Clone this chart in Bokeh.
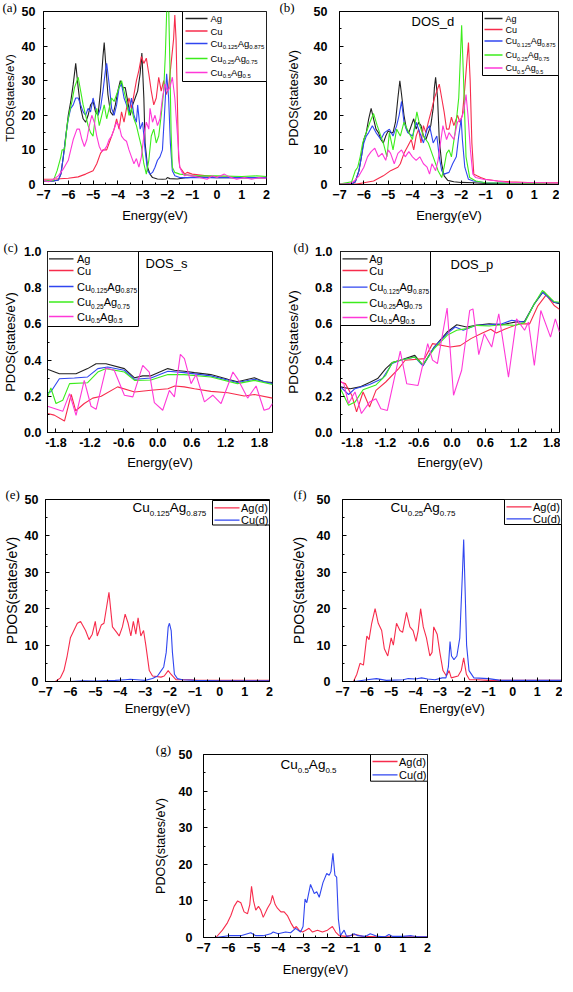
from bokeh.plotting import figure
from bokeh.models import Label, BoxAnnotation, Arrow, FixedTicker, NumeralTickFormatter, Range1d, Title
from bokeh.layouts import column, row
from bokeh.embed import file_html
from bokeh.resources import INLINE

# ---------------- data (energy in eV, DOS in states/eV) ----------------
# (a) total DOS
A_AG = [(-7.0,1.0),(-6.6,1.0),(-6.4,1.3),(-6.3,3),(-6.2,8),(-6.1,14),(-6.0,20),(-5.9,24),(-5.8,29),(-5.7,35),(-5.6,28),(-5.5,22),(-5.4,19),(-5.3,18),(-5.2,20),(-5.1,23),(-5.0,24),(-4.9,21),(-4.8,20),(-4.7,27),(-4.6,37),(-4.55,41),(-4.5,36),(-4.4,26),(-4.3,21),(-4.2,20),(-4.1,23),(-4.0,27),(-3.9,30),(-3.8,28),(-3.7,28),(-3.6,24),(-3.5,20),(-3.4,23),(-3.3,25),(-3.2,27),(-3.1,32),(-3.03,38),(-2.95,25),(-2.9,12),(-2.8,5),(-2.7,3),(-2.6,2),(-2.4,1.6),(-2.2,1.5),(-2.05,1.6),(-2.0,2.0),(-1.9,1.7),(-1.6,1.6),(-1.2,2.0),(-0.8,2.2),(0.0,2.0),(1.0,2.0),(2.0,2.0)]
A_CU = [(-7.0,1.5),(-6.5,1.6),(-6.0,1.8),(-5.6,2.2),(-5.3,3.0),(-5.0,4.0),(-4.85,6),(-4.7,9),(-4.6,10),(-4.45,10),(-4.3,13),(-4.15,16),(-4.05,19),(-3.95,16),(-3.85,21),(-3.75,18),(-3.65,22),(-3.55,25),(-3.45,22),(-3.35,26),(-3.25,30),(-3.15,33),(-3.05,37),(-2.95,35),(-2.85,36.5),(-2.75,32),(-2.65,27),(-2.55,23),(-2.45,25),(-2.35,31),(-2.25,27),(-2.15,30),(-2.05,26),(-1.95,28),(-1.85,35),(-1.75,42),(-1.7,49),(-1.65,42),(-1.6,25),(-1.55,8),(-1.5,5),(-1.4,4),(-1.3,3),(-1.2,3.5),(-1.0,3.0),(-0.5,2.6),(0.0,2.2),(1.0,2.0),(2.0,2.0)]
A_C125 = [(-7.0,1.0),(-6.6,1.0),(-6.4,1.3),(-6.3,3),(-6.2,8),(-6.1,14),(-6.0,19),(-5.9,22),(-5.8,23),(-5.7,25),(-5.6,25),(-5.5,23),(-5.4,21),(-5.3,20),(-5.2,22),(-5.1,21),(-5.0,25),(-4.9,22),(-4.8,20),(-4.7,22),(-4.6,27),(-4.5,33),(-4.45,35),(-4.35,29),(-4.25,22),(-4.15,20),(-4.05,23),(-3.95,28),(-3.85,29),(-3.75,25),(-3.65,23),(-3.55,21),(-3.45,25),(-3.35,20),(-3.25,18),(-3.2,23),(-3.1,16),(-3.0,18),(-2.9,10),(-2.8,4),(-2.7,3),(-2.6,3.5),(-2.5,5),(-2.4,7),(-2.3,8),(-2.2,10),(-2.12,20),(-2.03,32),(-1.95,25),(-1.88,12),(-1.8,4),(-1.7,2.5),(-1.5,2.0),(-1.0,2.0),(0.0,2.0),(1.0,2.0),(2.0,2.0)]
A_C25 = [(-7.0,1.0),(-6.6,1.2),(-6.45,4),(-6.3,8),(-6.25,10),(-6.15,10),(-6.05,17),(-5.95,21),(-5.85,24),(-5.75,28),(-5.6,31),(-5.5,27),(-5.4,23),(-5.3,20),(-5.2,17),(-5.1,15),(-5.0,14),(-4.9,20),(-4.85,22),(-4.75,17),(-4.65,20),(-4.55,23),(-4.45,19),(-4.35,22),(-4.25,25),(-4.15,24),(-4.05,26),(-3.95,28),(-3.85,30),(-3.75,27),(-3.65,24),(-3.55,20),(-3.45,22),(-3.35,19),(-3.25,17),(-3.15,14),(-3.05,11),(-2.95,6),(-2.85,3),(-2.75,7),(-2.65,14),(-2.55,16),(-2.45,12),(-2.35,14),(-2.25,20),(-2.15,27),(-2.08,38),(-2.02,52),(-1.95,52),(-1.9,35),(-1.85,15),(-1.8,5),(-1.7,3.5),(-1.5,3),(-1.0,2.6),(0.0,2.5),(1.0,2.3),(1.6,2.5),(2.0,2.3)]
A_C5 = [(-7.0,1.2),(-6.8,0.8),(-6.6,1.5),(-6.4,2.5),(-6.2,4.5),(-6.0,7),(-5.9,10),(-5.8,13),(-5.65,16),(-5.55,16),(-5.45,13),(-5.35,11),(-5.25,13),(-5.15,17),(-5.05,20),(-4.95,18),(-4.85,14),(-4.75,11),(-4.65,9.5),(-4.55,10),(-4.45,11),(-4.35,13),(-4.25,14),(-4.15,16),(-4.05,18),(-3.95,17),(-3.85,14),(-3.75,13),(-3.65,12.5),(-3.55,10),(-3.45,8),(-3.35,6),(-3.25,7.5),(-3.15,5),(-3.05,8),(-2.95,14),(-2.85,18),(-2.75,16),(-2.7,22),(-2.6,18),(-2.5,20),(-2.4,17),(-2.3,19),(-2.2,25),(-2.1,29),(-2.0,27),(-1.9,28),(-1.8,31),(-1.7,25),(-1.6,15),(-1.5,5),(-1.4,3.5),(-1.3,2.5),(-1.2,2.8),(-1.0,2.5),(-0.7,2.0),(-0.4,1.5),(-0.2,2.5),(0.0,2.0),(0.3,3),(0.5,2.2),(0.8,1.5),(1.1,2.0),(1.4,1.5),(1.7,2.0),(2.0,1.8)]

# (b) d-projected DOS
B_AG = [(-7.0,0.1),(-6.5,0.1),(-6.35,0.8),(-6.2,4),(-6.1,8),(-6.0,13),(-5.9,15),(-5.8,19),(-5.7,22),(-5.6,19),(-5.5,16),(-5.4,15),(-5.3,13),(-5.2,12),(-5.1,14),(-5.0,15.5),(-4.9,15),(-4.8,15),(-4.7,18),(-4.6,25),(-4.52,30),(-4.45,26),(-4.35,20),(-4.25,16),(-4.15,15),(-4.05,17),(-3.95,19),(-3.85,16),(-3.75,18),(-3.65,17),(-3.55,14),(-3.45,13),(-3.35,15),(-3.25,17),(-3.15,22),(-3.1,28),(-3.05,31),(-2.97,25),(-2.9,13),(-2.8,6),(-2.7,2.5),(-2.55,1.2),(-2.3,0.8),(-2.0,0.6),(-1.5,0.5),(-1.0,0.3),(0.0,0.3),(2.0,0.3)]
B_CU = [(-7.0,0.1),(-6.3,0.1),(-6.0,0.5),(-5.6,1.0),(-5.2,2.5),(-4.9,4),(-4.6,5),(-4.5,6),(-4.35,9),(-4.2,11),(-4.05,13),(-3.95,10),(-3.85,14),(-3.75,16),(-3.65,12),(-3.55,17),(-3.45,15),(-3.35,18),(-3.2,22),(-3.1,25),(-3.0,27),(-2.9,29),(-2.8,25),(-2.7,21),(-2.6,16),(-2.5,16),(-2.4,19.5),(-2.3,17),(-2.15,20),(-2.05,18),(-1.95,20),(-1.85,28),(-1.75,37),(-1.7,41),(-1.63,30),(-1.56,12),(-1.48,3),(-1.35,2.5),(-1.2,2),(-1.0,1.5),(-0.5,1.0),(0.0,0.8),(1.0,0.5),(2.0,0.5)]
B_C125 = [(-7.0,0.1),(-6.5,0.1),(-6.35,0.8),(-6.2,4),(-6.1,8),(-6.0,12),(-5.9,14),(-5.8,15),(-5.65,17),(-5.5,15),(-5.3,13),(-5.15,15),(-4.95,16),(-4.8,14),(-4.65,17),(-4.55,20),(-4.45,24),(-4.35,18),(-4.2,15),(-4.0,14),(-3.85,18),(-3.7,15),(-3.55,12),(-3.4,16),(-3.3,17),(-3.15,12),(-3.0,14),(-2.9,8),(-2.8,4),(-2.7,3),(-2.5,3.5),(-2.35,6),(-2.2,8),(-2.1,14),(-2.0,19),(-1.95,13),(-1.85,5),(-1.7,1.5),(-1.5,1.0),(-1.0,0.5),(0.0,0.4),(2.0,0.3)]
B_C25 = [(-7.0,0.1),(-6.5,0.8),(-6.35,4),(-6.25,5),(-6.15,8),(-6.05,12),(-5.9,15),(-5.75,18),(-5.6,20.5),(-5.45,17),(-5.3,14),(-5.2,12),(-5.05,8),(-4.95,15),(-4.8,10),(-4.65,16),(-4.5,14),(-4.35,18),(-4.15,15),(-4.0,13),(-3.82,21),(-3.7,17),(-3.55,14),(-3.35,12),(-3.15,8),(-2.95,4),(-2.8,2),(-2.7,5),(-2.6,9),(-2.5,10),(-2.4,8),(-2.25,15),(-2.1,25),(-1.98,46),(-1.9,30),(-1.8,8),(-1.65,2),(-1.4,1),(-1.0,0.5),(0.0,0.4),(2.0,0.3)]
B_C5 = [(-7.0,0.1),(-6.6,0.1),(-6.4,1),(-6.2,2.5),(-6.0,5),(-5.85,8),(-5.7,9.5),(-5.55,10.5),(-5.4,8),(-5.25,9),(-5.1,7),(-5.0,10),(-4.9,9),(-4.75,6),(-4.6,9),(-4.45,10),(-4.3,8),(-4.15,9.5),(-4.0,8),(-3.85,7),(-3.7,8),(-3.55,6),(-3.4,5),(-3.3,3),(-3.2,6),(-3.05,4),(-2.95,7),(-2.85,12),(-2.75,17),(-2.6,13),(-2.5,15),(-2.4,14),(-2.3,13),(-2.15,18),(-2.0,19),(-1.9,21),(-1.8,26),(-1.72,20),(-1.62,10),(-1.52,3),(-1.4,2),(-1.1,1.5),(-0.5,1.0),(0.0,0.5),(1.0,0.5),(2.0,0.4)]

# (c) s-projected DOS
C_AG = [(-1.95,0.349),(-1.74,0.325),(-1.445,0.325),(-1.24,0.353),(-1.09,0.38),(-0.915,0.38),(-0.59,0.353),(-0.41,0.302),(-0.265,0.313),(-0.118,0.313),(0.177,0.353),(0.295,0.344),(0.472,0.338),(0.649,0.331),(0.94,0.32),(1.24,0.294),(1.41,0.28),(1.71,0.302),(1.88,0.28),(2.03,0.276)]
C_CU = [(-1.95,0.105),(-1.83,0.096),(-1.65,0.063),(-1.53,0.21),(-1.45,0.12),(-1.30,0.16),(-1.15,0.19),(-1.0,0.20),(-0.71,0.252),(-0.41,0.224),(-0.12,0.233),(0.18,0.242),(0.30,0.257),(0.47,0.252),(0.65,0.242),(0.94,0.227),(1.24,0.22),(1.53,0.202),(1.71,0.21),(2.03,0.19)]
C_C125 = [(-1.95,0.22),(-1.89,0.225),(-1.74,0.297),(-1.475,0.301),(-1.24,0.307),(-1.06,0.353),(-0.885,0.362),(-0.59,0.344),(-0.41,0.294),(-0.12,0.301),(0.18,0.338),(0.47,0.331),(0.94,0.313),(1.41,0.276),(1.71,0.294),(2.03,0.27)]
C_C25 = [(-1.95,0.196),(-1.89,0.246),(-1.80,0.16),(-1.68,0.178),(-1.56,0.27),(-1.24,0.275),(-1.06,0.334),(-0.915,0.353),(-0.59,0.334),(-0.41,0.288),(-0.12,0.29),(0.18,0.32),(0.47,0.32),(0.94,0.307),(1.41,0.27),(1.71,0.288),(2.03,0.265)]
C_C5 = [(-1.95,0.145),(-1.68,0.117),(-1.56,0.215),(-1.445,0.095),(-1.30,0.288),(-1.18,0.145),(-1.09,0.128),(-0.915,0.356),(-0.77,0.344),(-0.59,0.206),(-0.44,0.197),(-0.265,0.371),(-0.15,0.334),(-0.06,0.165),(0.088,0.123),(0.206,0.233),(0.295,0.197),(0.40,0.432),(0.472,0.408),(0.59,0.27),(0.678,0.32),(0.826,0.169),(0.973,0.206),(1.12,0.16),(1.33,0.334),(1.41,0.298),(1.59,0.19),(1.74,0.257),(1.88,0.123),(1.97,0.132),(2.03,0.16)]

# (d) p-projected DOS
D_AG = [(-2.01,0.252),(-1.836,0.242),(-1.66,0.252),(-1.486,0.276),(-1.34,0.298),(-1.194,0.353),(-1.078,0.386),(-0.932,0.399),(-0.67,0.426),(-0.524,0.371),(-0.32,0.472),(-0.087,0.555),(0.087,0.595),(0.262,0.583),(0.437,0.592),(0.67,0.601),(0.903,0.595),(1.136,0.61),(1.31,0.614),(1.486,0.711),(1.65,0.779),(1.836,0.72),(1.94,0.711)]
D_CU = [(-2.01,0.279),(-1.923,0.27),(-1.807,0.206),(-1.72,0.114),(-1.603,0.224),(-1.486,0.141),(-1.37,0.233),(-1.194,0.279),(-0.961,0.353),(-0.845,0.399),(-0.495,0.408),(-0.35,0.491),(-0.029,0.472),(0.15,0.48),(0.35,0.52),(0.55,0.55),(0.70,0.57),(0.80,0.55),(0.95,0.57),(1.2,0.60),(1.4,0.60),(1.55,0.70),(1.70,0.76),(1.85,0.70),(1.94,0.68)]
D_C125 = [(-2.01,0.252),(-1.865,0.21),(-1.749,0.242),(-1.486,0.265),(-1.253,0.298),(-1.078,0.381),(-0.932,0.399),(-0.67,0.417),(-0.524,0.368),(-0.32,0.472),(-0.087,0.546),(0.058,0.583),(0.204,0.565),(0.437,0.592),(0.67,0.595),(0.903,0.601),(1.078,0.62),(1.31,0.61),(1.486,0.711),(1.632,0.775),(1.836,0.72),(1.94,0.716)]
D_C25 = [(-2.01,0.242),(-1.865,0.15),(-1.749,0.168),(-1.603,0.236),(-1.37,0.263),(-1.194,0.316),(-1.078,0.386),(-0.932,0.399),(-0.67,0.417),(-0.524,0.375),(-0.32,0.463),(-0.087,0.537),(0.087,0.565),(0.262,0.574),(0.437,0.592),(0.67,0.588),(0.903,0.595),(1.136,0.592),(1.31,0.607),(1.486,0.711),(1.632,0.785),(1.836,0.724),(1.94,0.72)]
D_C5 = [(-2.01,0.283),(-1.95,0.27),(-1.865,0.16),(-1.749,0.224),(-1.632,0.105),(-1.486,0.168),(-1.37,0.187),(-1.282,0.131),(-1.165,0.122),(-0.932,0.449),(-0.815,0.269),(-0.612,0.26),(-0.437,0.491),(-0.35,0.40),(-0.262,0.381),(-0.087,0.688),(0.029,0.206),(0.175,0.344),(0.32,0.674),(0.379,0.683),(0.484,0.43),(0.583,0.546),(0.717,0.472),(0.845,0.656),(1.02,0.306),(1.165,0.628),(1.31,0.565),(1.38,0.61),(1.486,0.37),(1.603,0.674),(1.778,0.527),(1.865,0.628),(1.94,0.555)]

# (e) Cu0.125Ag0.875 partial d
E_AG = [(-7.0,0.0),(-6.6,0.0),(-6.4,1),(-6.26,3),(-6.13,7),(-6.0,12),(-5.86,14),(-5.72,16),(-5.59,16.5),(-5.39,14),(-5.25,11.5),(-5.12,13),(-5.0,16.5),(-4.92,12.5),(-4.76,15.5),(-4.65,16),(-4.45,24.5),(-4.31,15),(-4.14,13.5),(-4.04,12.5),(-3.91,15),(-3.8,18.5),(-3.68,16),(-3.57,12.5),(-3.47,16.5),(-3.37,13),(-3.28,17.5),(-3.17,12.5),(-3.06,14),(-2.97,10),(-2.83,3),(-2.7,1.5),(-2.36,1.2),(-2.23,1.5),(-2.07,3),(-1.96,2),(-1.76,0.5),(-1.15,0.5),(-0.88,0.3),(0.0,0.3),(2.0,0.3)]
E_CU = [(-7.0,0.0),(-6.0,0.0),(-5.5,0.2),(-5.0,0.1),(-4.2,0.3),(-3.8,0.5),(-3.6,0.6),(-3.2,0.4),(-3.0,0.3),(-2.7,0.8),(-2.5,1.5),(-2.35,3),(-2.25,4),(-2.15,8),(-2.07,15),(-2.02,16),(-1.95,14),(-1.9,8),(-1.82,2),(-1.7,0.8),(-1.5,0.5),(-1.0,0.3),(0.0,0.2),(2.0,0.2)]

# (f) Cu0.25Ag0.75 partial d
F_AG = [(-7.0,0.0),(-6.55,0.0),(-6.41,2),(-6.28,5),(-6.14,4.5),(-6.0,12.5),(-5.91,11.5),(-5.8,16),(-5.66,20),(-5.53,16),(-5.39,14),(-5.28,9),(-5.14,7),(-5.0,12),(-4.91,10),(-4.78,16),(-4.64,14),(-4.53,13.5),(-4.37,19),(-4.23,15),(-4.1,14),(-3.98,11),(-3.89,14),(-3.79,20),(-3.68,15),(-3.55,12),(-3.41,7),(-3.32,8),(-3.25,15),(-3.11,13),(-3.0,8),(-2.87,3),(-2.73,1.5),(-2.62,3),(-2.53,1),(-2.25,1.5),(-2.12,3),(-2.02,6.5),(-1.91,2),(-1.78,0.5),(-1.43,0.5),(-1.0,0.3),(2.0,0.3)]
F_CU = [(-7.0,0.0),(-6.5,0.0),(-6.0,0.5),(-5.6,0.8),(-5.2,0.3),(-4.5,0.5),(-4.3,0.8),(-4.0,0.7),(-3.75,1.0),(-3.5,0.7),(-3.2,0.5),(-2.9,1.0),(-2.75,1.0),(-2.65,4),(-2.58,11),(-2.52,7),(-2.42,6),(-2.3,7),(-2.18,12),(-2.07,30),(-2.02,39),(-1.96,25),(-1.9,10),(-1.8,3),(-1.6,1.0),(-1.0,0.8),(-0.5,0.3),(2.0,0.3)]

# (g) Cu0.5Ag0.5 partial d
G_AG = [(-7.0,0.0),(-6.5,0.0),(-6.24,2),(-6.04,4),(-5.9,6),(-5.77,8.5),(-5.63,10),(-5.5,9.5),(-5.37,7),(-5.23,6.5),(-5.14,9),(-5.07,14),(-4.99,10),(-4.9,7.5),(-4.79,8.5),(-4.7,7.5),(-4.6,5.5),(-4.43,8),(-4.3,9.5),(-4.23,11.5),(-4.12,9),(-4.03,8),(-3.89,7),(-3.76,7),(-3.63,6),(-3.49,4),(-3.36,2.5),(-3.27,3),(-3.16,2),(-3.02,1.5),(-2.89,2),(-2.76,2.5),(-2.62,1.5),(-2.42,2),(-2.22,1.5),(-2.02,2),(-1.82,3),(-1.69,1.5),(-1.55,0.5),(-1.28,0.3),(-0.88,0.8),(-0.61,0.3),(0.0,0.2),(2.0,0.2)]
G_CU = [(-7.0,0.0),(-6.5,0.0),(-6.0,0.5),(-5.5,0.5),(-5.1,1.3),(-4.9,0.5),(-4.6,0.5),(-4.3,1.0),(-4.2,1.5),(-4.0,1.0),(-3.7,1.5),(-3.5,1.3),(-3.3,2.5),(-3.1,1.5),(-3.0,3),(-2.92,10.5),(-2.85,9.5),(-2.7,14.5),(-2.55,12),(-2.45,12.5),(-2.35,11),(-2.2,15),(-2.05,17.5),(-1.95,17),(-1.88,18),(-1.8,23),(-1.72,17),(-1.65,16.5),(-1.58,5),(-1.5,0.5),(-1.35,2),(-1.25,0.3),(-1.1,0.5),(-0.95,1.0),(-0.8,0.5),(-0.5,0.3),(-0.3,1.0),(0.0,0.3),(0.3,0.2),(0.45,0.8),(0.6,0.3),(1.0,0.3),(1.35,0.5),(1.6,0.2),(2.0,0.2)]

# ticks
XT_WIDE = [-7, -6, -5, -4, -3, -2, -1, 0, 1, 2]
XM_WIDE = [-6.5, -5.5, -4.5, -3.5, -2.5, -1.5, -0.5, 0.5, 1.5]
YT_WIDE = [0, 10, 20, 30, 40, 50]
YM_WIDE = [5, 15, 25, 35, 45]
XT_NARROW = [-1.8, -1.2, -0.6, 0.0, 0.6, 1.2, 1.8]
XM_NARROW = [-1.5, -0.9, -0.3, 0.3, 0.9, 1.5]
YT_NARROW = [0.0, 0.2, 0.4, 0.6, 0.8, 1.0]
YM_NARROW = [0.1, 0.3, 0.5, 0.7, 0.9]

# ---------------- styling ----------------
SANS = "Liberation Sans"
SERIF = "Liberation Serif"
C_BLACK = "#222222"
C_RED = "#f72c4c"
C_BLUE = "#3046f0"
C_GREEN = "#3cec1c"
C_MAG = "#ff38d8"

AW = {'A': 667, 'C': 722, 'D': 722, 'O': 778, 'S': 667, 'u': 556, 'g': 556, 'd': 556,
      's': 500, 'p': 556, '_': 556, '(': 333, ')': 333, '.': 278}


def tw(s, size):
    return sum(AW.get(c, 556) for c in s) * size / 1000.0


class Panel:
    def __init__(self, xr, yr, fw, fh, bl, br, bt, bb, xt, xm, yt, ym, fmt,
                 ylabel, ylsize, ytick_sd, ylab_sd, xlab_sd, tag, tag_dx, tag_sd):
        self.xr, self.yr, self.fw, self.fh = xr, yr, fw, fh
        p = figure(frame_width=fw, frame_height=fh,
                   x_range=Range1d(*xr), y_range=Range1d(*yr),
                   min_border_left=bl, min_border_right=br,
                   min_border_top=bt, min_border_bottom=bb,
                   output_backend="svg", toolbar_location=None)
        p.xgrid.visible = False
        p.ygrid.visible = False
        p.outline_line_color = "black"
        p.outline_line_alpha = 1.0
        p.outline_line_width = 1
        p.xaxis.ticker = FixedTicker(ticks=xt, minor_ticks=xm)
        p.yaxis.ticker = FixedTicker(ticks=yt, minor_ticks=ym)
        if fmt:
            p.xaxis.formatter = NumeralTickFormatter(format=fmt)
            p.yaxis.formatter = NumeralTickFormatter(format=fmt)
        for ax in (p.xaxis[0], p.yaxis[0]):
            ax.major_tick_in = 4
            ax.major_tick_out = 0
            ax.minor_tick_in = 2
            ax.minor_tick_out = 0
            ax.axis_line_color = "black"
            ax.major_tick_line_color = "black"
            ax.minor_tick_line_color = "black"
            ax.major_label_text_font = SANS
            ax.major_label_text_font_style = "bold"
            ax.major_label_text_font_size = "12.5px"
            ax.major_label_text_color = "black"
            ax.axis_label_text_font = SANS
            ax.axis_label_text_font_style = "normal"
            ax.axis_label_text_color = "black"
        p.xaxis.axis_label = "Energy(eV)"
        p.xaxis.axis_label_text_font_size = "13px"
        p.xaxis.major_label_standoff = 5
        p.xaxis.axis_label_standoff = xlab_sd
        p.yaxis.axis_label = ylabel
        p.yaxis.axis_label_text_font_size = f"{ylsize}px"
        p.yaxis.major_label_standoff = ytick_sd
        p.yaxis.axis_label_standoff = ylab_sd
        # panel tag, drawn as a left-aligned title pulled next to the y axis
        p.add_layout(Title(text=tag, align="left", offset=tag_dx, standoff=tag_sd,
                           text_font=SERIF, text_font_size="13px",
                           text_font_style="normal", text_color="black"), "above")
        self.p = p

    def d(self, xpx, ypx):
        x0, x1 = self.xr
        y0, y1 = self.yr
        return x0 + xpx / self.fw * (x1 - x0), y1 - ypx / self.fh * (y1 - y0)

    def curve(self, pts, color):
        xs = [a for a, b in pts]
        ys = [b for a, b in pts]
        self.p.line(xs, ys, line_color=color, line_width=1.1)

    def text(self, xpx, ypx, s, size, font=SANS):
        x, y = self.d(xpx, ypx)
        self.p.add_layout(Label(x=x, y=y, text=s, text_font=font,
                                text_font_size=f"{size}px", text_color="black",
                                text_baseline="middle", text_align="left"))

    def rich(self, xpx, ypx, parts, size, sub):
        x = xpx
        for s, is_sub in parts:
            sz = sub if is_sub else size
            yy = ypx + (0.4 * size if is_sub else 0)
            self.text(x, yy, s, sz)
            x += tw(s, sz)

    def legend(self, left, right, top, bottom, entries, lx0, lx1, tx, size, sub):
        l, t = self.d(left, top)
        r, b = self.d(right, bottom)
        self.p.add_layout(BoxAnnotation(left=l, right=r, top=t, bottom=b,
                                        fill_color="white", fill_alpha=1.0,
                                        line_color="black", line_alpha=1.0, line_width=1))
        for ypx, color, parts in entries:
            xs, ys = self.d(left + lx0, ypx)
            xe, _ = self.d(left + lx1, ypx)
            self.p.add_layout(Arrow(end=None, x_start=xs, y_start=ys, x_end=xe, y_end=ys,
                                    line_color=color, line_width=1.3))
            self.rich(left + tx, ypx, parts, size, sub)


def comp(x, y):
    return [("Cu", False), (x, True), ("Ag", False), (y, True)]


LEG5 = [(C_BLACK, [("Ag", False)]), (C_RED, [("Cu", False)]),
        (C_BLUE, comp("0.125", "0.875")), (C_GREEN, comp("0.25", "0.75")),
        (C_MAG, comp("0.5", "0.5"))]
LEG2 = [(C_RED, [("Ag(d)", False)]), (C_BLUE, [("Cu(d)", False)])]


def leg(ys, spec):
    return [(y, c, parts) for y, (c, parts) in zip(ys, spec)]


WIDE = (-7, 2)
# ---------------- (a) ----------------
pa = Panel(WIDE, (0, 50), 223, 173, 41, 10, 9, 56, XT_WIDE, XM_WIDE, YT_WIDE, YM_WIDE, None,
           "TDOS(states/eV)", 11.5, 8, 3, 6, "(a)", -41, -6)
for pts, c in ((A_AG, C_BLACK), (A_CU, C_RED), (A_C125, C_BLUE), (A_C25, C_GREEN), (A_C5, C_MAG)):
    pa.curve(pts, c)
pa.legend(223 - 84, 223, 0, 70, leg([7, 19.5, 32, 47, 61], LEG5), 3, 25, 28, 9.5, 6)

# ---------------- (b) ----------------
pb = Panel(WIDE, (0, 50), 219, 173, 63, 1, 9, 56, XT_WIDE, XM_WIDE, YT_WIDE, YM_WIDE, None,
           "PDOS(states/eV)", 12.5, 12, 10, 6, "(b)", -60, -6)
pb.text(72, 10.3, "DOS_d", 13)
for pts, c in ((B_AG, C_BLACK), (B_CU, C_RED), (B_C125, C_BLUE), (B_C25, C_GREEN), (B_C5, C_MAG)):
    pb.curve(pts, c)
pb.legend(219 - 76, 219, 0, 64, leg([7, 18, 29.5, 43.5, 56.5], LEG5), 2, 20, 23, 9, 5.5)

# ---------------- (c) ----------------
pc = Panel((-1.95, 2.03), (0, 1), 225, 181, 44, 5, 10, 54, XT_NARROW, XM_NARROW, YT_NARROW, YM_NARROW,
           "0.0", "PDOS(states/eV)", 13, 6, 3, 5, "(c)", -44, -6)
pc.text(98, 12.3, "DOS_s", 13)
for pts, c in ((C_AG, C_BLACK), (C_CU, C_RED), (C_C125, C_BLUE), (C_C25, C_GREEN), (C_C5, C_MAG)):
    pc.curve(pts, c)
pc.legend(0, 91, 0, 75, leg([7.3, 19, 35, 50.5, 65], LEG5), 1.5, 26, 29.5, 11, 6.5)

# ---------------- (d) ----------------
pd_ = Panel((-2.01, 1.94), (0, 1), 219, 181, 63, 1, 10, 54, XT_NARROW, XM_NARROW, YT_NARROW, YM_NARROW,
            "0.0", "PDOS(states/eV)", 13.5, 8, 11, 5, "(d)", -47, -6)
pd_.text(110, 13, "DOS_p", 13)
for pts, c in ((D_AG, C_BLACK), (D_CU, C_RED), (D_C125, C_BLUE), (D_C25, C_GREEN), (D_C5, C_MAG)):
    pd_.curve(pts, c)
pd_.legend(0, 90, 0, 74, leg([7.3, 19, 35.7, 51, 66], LEG5), 2, 27, 28.7, 11, 6.5)

# ---------------- (e) ----------------
pe = Panel(WIDE, (0, 50), 224, 182, 40, 10, 10, 61, XT_WIDE, XM_WIDE, YT_WIDE, YM_WIDE, None,
           "PDOS(states/eV)", 14, 7, 2, 2, "(e)", -40, -5)
pe.rich(87, 8.3, comp("0.125", "0.875"), 13.5, 8)
pe.curve(E_AG, C_RED)
pe.curve(E_CU, C_BLUE)
pe.legend(224 - 57, 224, 1, 25.5, leg([8.3, 20.7], LEG2), 2, 27, 28.5, 11, 7)

# ---------------- (f) ----------------
pf = Panel(WIDE, (0, 50), 219, 182, 63, 1, 10, 61, XT_WIDE, XM_WIDE, YT_WIDE, YM_WIDE, None,
           "PDOS(states/eV)", 14, 12, 7, 2, "(f)", -49, -4)
pf.rich(48, 8.3, comp("0.25", "0.75"), 13.5, 8)
pf.curve(F_AG, C_RED)
pf.curve(F_CU, C_BLUE)
pf.legend(219 - 57, 219, 0, 25, leg([7.3, 19.3], LEG2), 2, 27, 28.5, 11, 7)

# ---------------- (g) ----------------
pg = Panel(WIDE, (0, 50), 224, 183, 203, 10, 10, 47, XT_WIDE, XM_WIDE, YT_WIDE, YM_WIDE, None,
           "PDOS(states/eV)", 12.5, 11, 8, 7, "(g)", -47.7, -5)
pg.rich(77, 10.3, comp("0.5", "0.5"), 13.5, 8)
pg.curve(G_AG, C_RED)
pg.curve(G_CU, C_BLUE)
pg.legend(224 - 57, 224, 0, 26.7, leg([7, 20.3], LEG2), 2, 27, 28.5, 11, 7)

layout = column(row(pa.p, pb.p), row(pc.p, pd_.p), row(pe.p, pf.p), pg.p)
open("out.html", "w").write(file_html(layout, INLINE))
